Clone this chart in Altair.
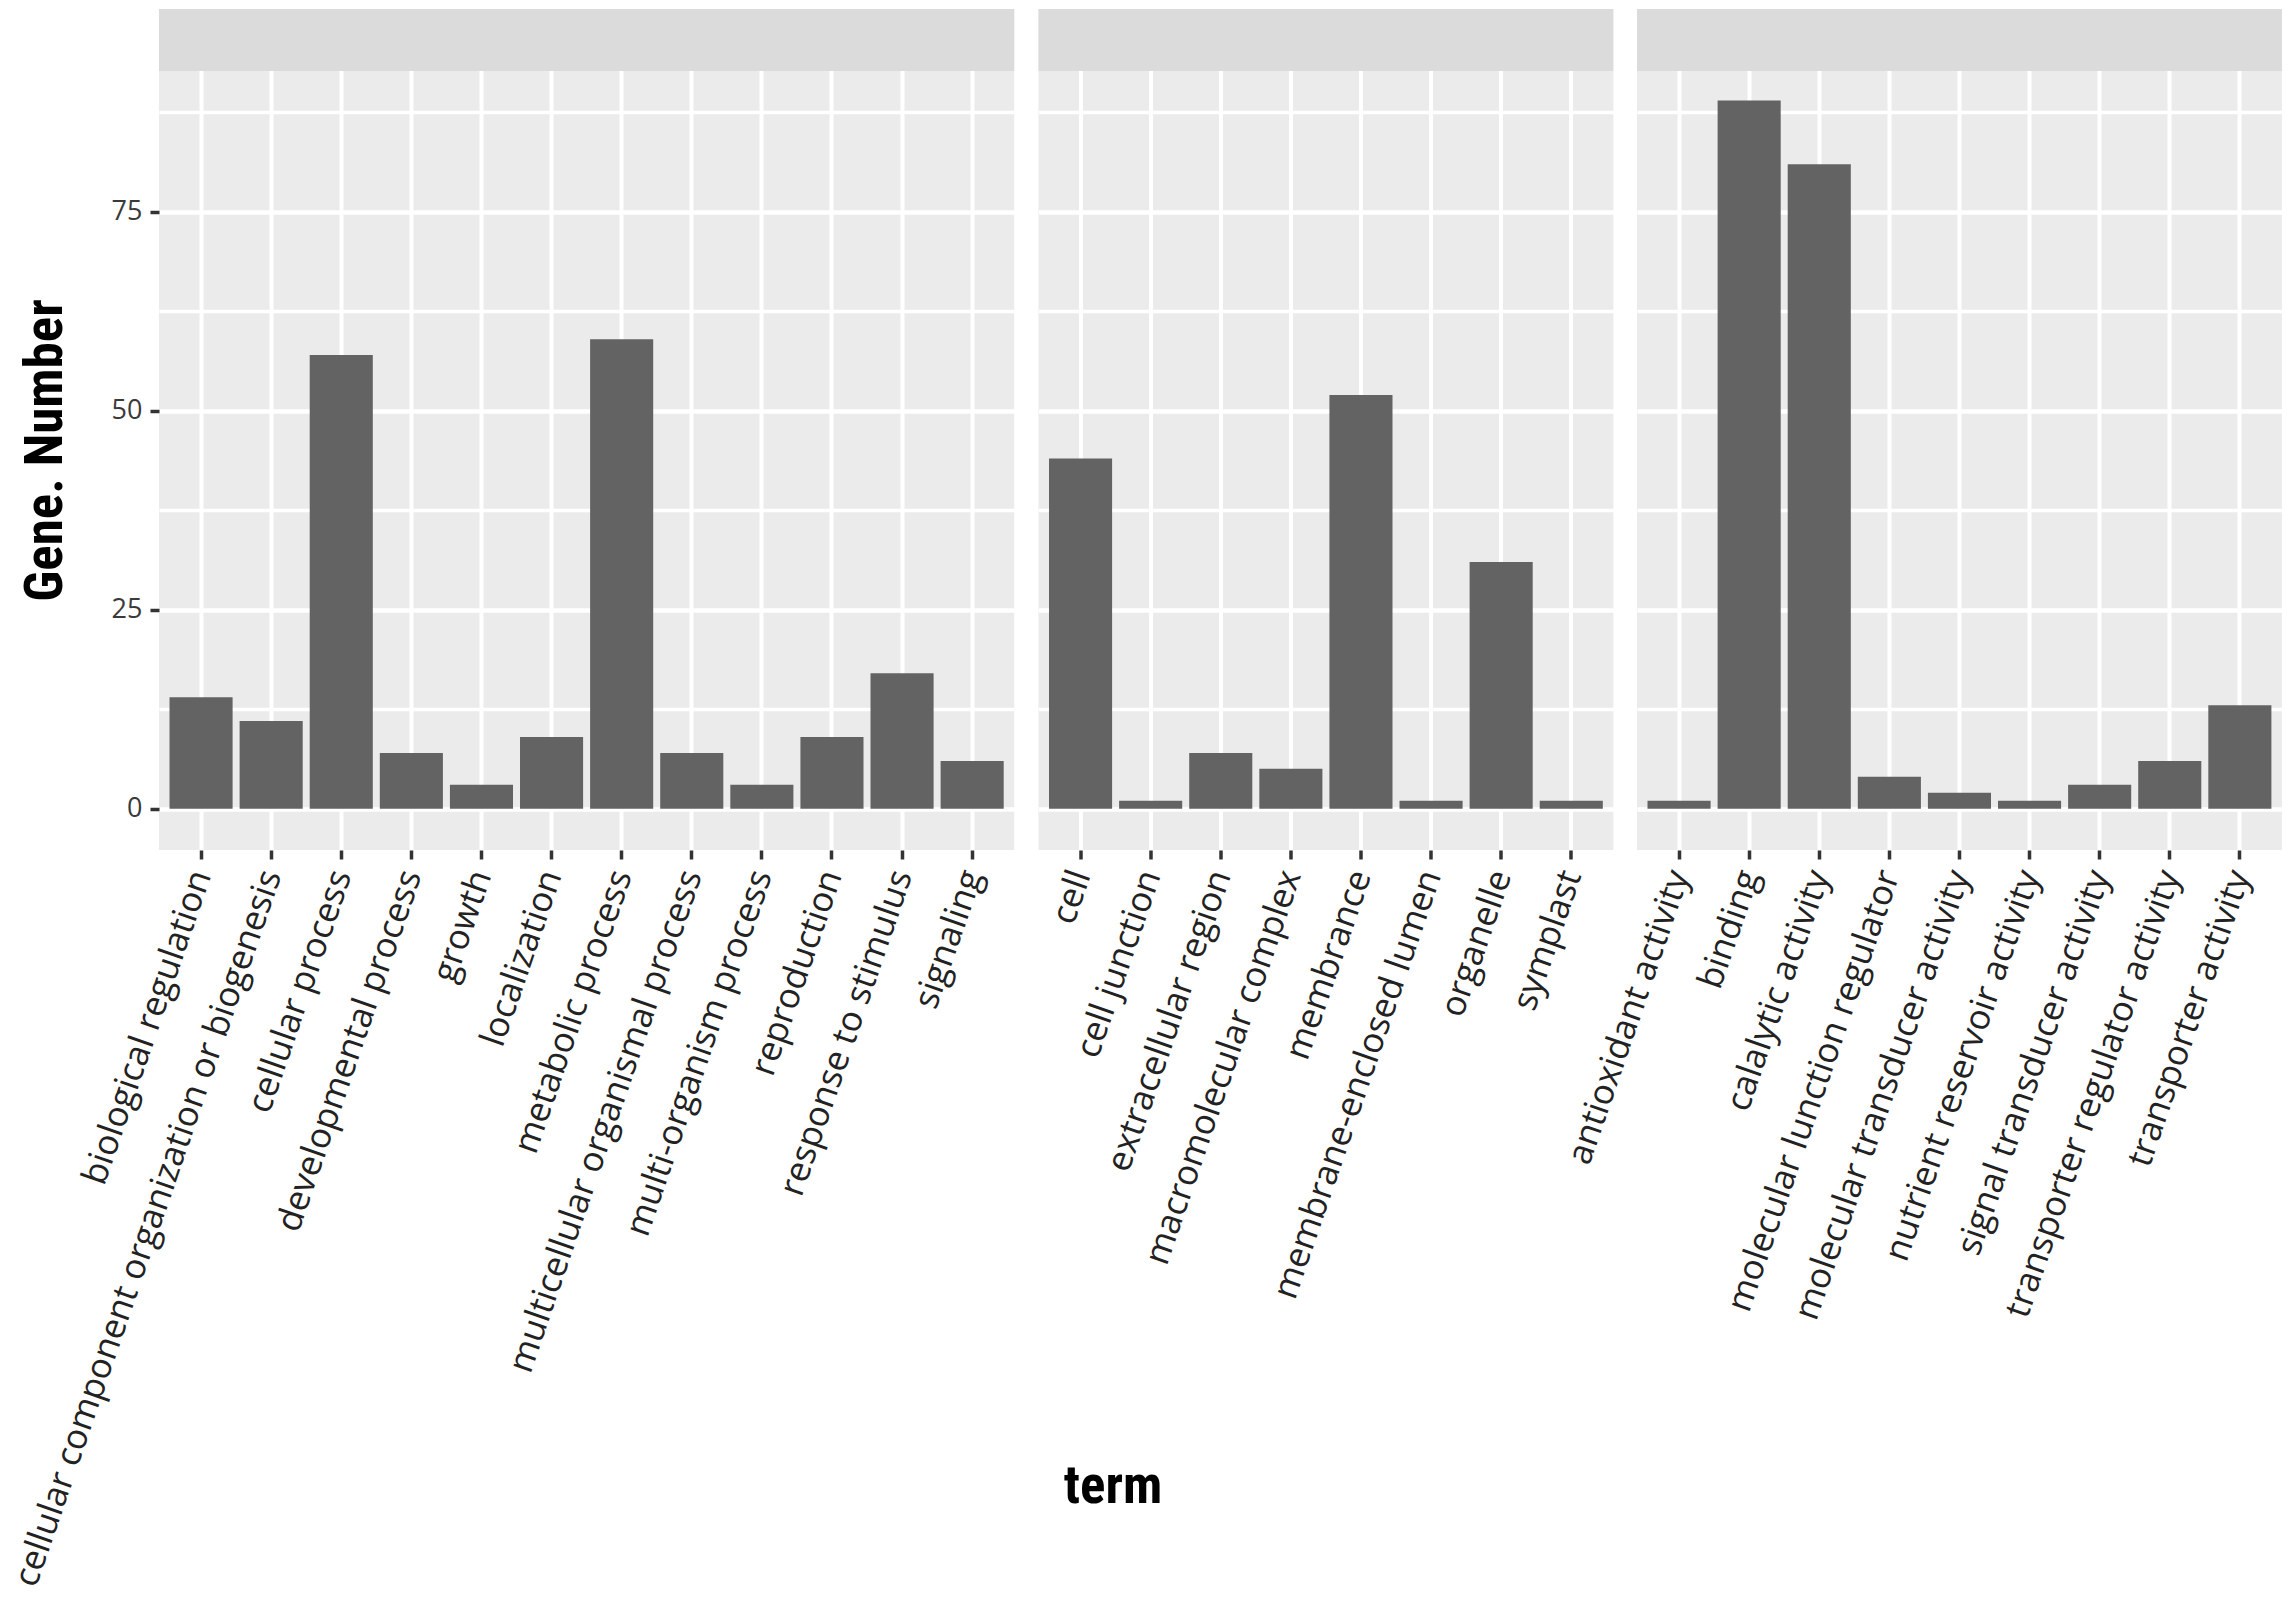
import altair as alt
import pandas as pd

bp_terms = ["biological regulation", "cellular component organization or biogenesis",
            "cellular process", "developmental process", "growth", "localization",
            "metabolic process", "multicellular organismal process", "multi-organism process",
            "reproduction", "response to stimulus", "signaling"]
bp_counts = [14, 11, 57, 7, 3, 9, 59, 7, 3, 9, 17, 6]

cc_terms = ["cell", "cell junction", "extracellular region", "macromolecular complex",
            "membrance", "membrane-enclosed lumen", "organelle", "symplast"]
cc_counts = [44, 1, 7, 5, 52, 1, 31, 1]

mf_terms = ["antioxidant activity", "binding", "calalytic activity",
            "molecular lunction regulator", "molecular transducer activity",
            "nutrient reservoir activity", "signal transducer activity",
            "transporter regulator activity", "transporter activity"]
mf_counts = [1, 89, 81, 4, 2, 1, 3, 6, 13]

y_grid_values = [0, 12.5, 25, 37.5, 50, 62.5, 75, 87.5]

# layout / style constants
PANEL_LO, PANEL_HI = -5.2, 92.7      # visible value range of the grey panel
STRIP_UNITS = 7.8                    # height of the (empty) facet strip, in value units
STEP = 70.1
TOTAL_H = 841
BAR = "#636363"
PANEL_BG = "#ebebeb"
STRIP_BG = "#dbdbdb"
LABEL_FONT = "Open Sans"
TITLE_FONT = "Liberation Sans Narrow, Roboto Condensed, Roboto, sans-serif"

major = "datum.value % 25 === 0"


def panel(terms, counts, first=False, middle=False):
    df = pd.DataFrame({"term": terms, "count": counts})
    w = STEP * (len(terms) + 0.2)
    y_scale = alt.Scale(domain=[PANEL_LO, PANEL_HI + STRIP_UNITS], nice=False, zero=False)

    x_kwargs = dict(
        labelAngle=289, labelAlign="right", labelBaseline="middle",
        labelFont=LABEL_FONT, labelFontSize=35, labelColor="#222222",
        labelPadding=12, labelLimit=2000, labelOverlap=False,
        tickSize=9, tickWidth=3.5, tickColor="#333333",
        domain=False, grid=True, gridColor="white", gridWidth=4,
        bandPosition=0.5,
    )
    if middle:
        x_kwargs.update(title="term", titleFont=TITLE_FONT, titleFontWeight="bold",
                        titleFontSize=53, titleColor="black", titleX=74, titleY=652,
                        titleAlign="center", titleBaseline="alphabetic", titleAngle=0)
    else:
        x_kwargs.update(title=None)

    y_kwargs = dict(
        values=y_grid_values, grid=True, gridColor="white",
        gridWidth={"condition": {"test": major, "value": 4.5}, "value": 3.5},
        domain=False,
    )
    if first:
        y_kwargs.update(
            labelExpr=f"{major} ? datum.label : ''",
            labelFont=LABEL_FONT, labelFontSize=27, labelColor="#3a3a3a", labelPadding=8,
            tickSize=9, tickWidth=3.5,
            tickColor={"condition": {"test": major, "value": "#333333"}, "value": "transparent"},
            title="Gene. Number", titleFont=TITLE_FONT, titleFontWeight="bold",
            titleFontSize=53, titleColor="black", titleX=-98, titleY=441,
            titleAlign="center", titleBaseline="alphabetic", titleAngle=270,
        )
    else:
        y_kwargs.update(labels=False, ticks=False, title=None)
    y_axis = alt.Axis(**y_kwargs)

    bars = alt.Chart(df).mark_bar(color=BAR).encode(
        x=alt.X("term:N", sort=terms,
                scale=alt.Scale(paddingInner=0.1, paddingOuter=0.15),
                axis=alt.Axis(**x_kwargs)),
        y=alt.Y("count:Q", scale=y_scale, axis=y_axis),
    )

    strip_df = pd.DataFrame({"count": [PANEL_HI], "count_end": [PANEL_HI + STRIP_UNITS]})
    strip = alt.Chart(strip_df).mark_rect(color=STRIP_BG).encode(
        y=alt.Y("count:Q", scale=y_scale, axis=y_axis),
        y2="count_end:Q",
    )

    return alt.layer(bars, strip).properties(
        width=w, height=TOTAL_H,
        view=alt.ViewBackground(fill=PANEL_BG, strokeWidth=0),
    )


chart = alt.hconcat(
    panel(bp_terms, bp_counts, first=True),
    panel(cc_terms, cc_counts, middle=True),
    panel(mf_terms, mf_counts),
    spacing=23.5, bounds="flush",
).resolve_scale(x="independent").properties(
    padding={"left": 0, "top": 1, "right": 0, "bottom": 0},
    background="white",
).configure_view(strokeWidth=0)

chart.save("out.html", embed_options={"renderer": "svg", "actions": False})
